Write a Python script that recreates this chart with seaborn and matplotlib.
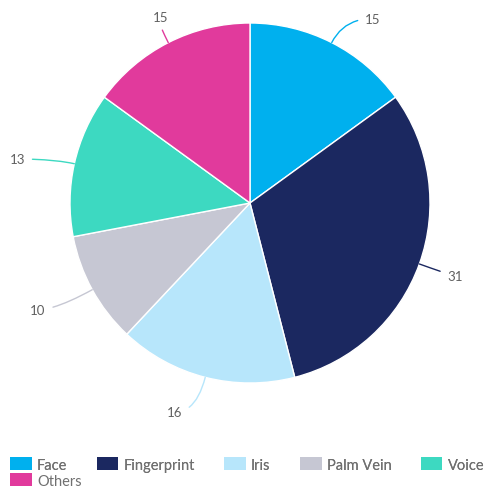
import numpy as np
import seaborn as sns
import matplotlib.pyplot as plt
from matplotlib.patches import Patch

categories = ['Face', 'Fingerprint', 'Iris', 'Palm Vein', 'Voice', 'Others']
values = [15, 31, 16, 10, 13, 15]
colors = ['#00B0EE', '#1B2860', '#B7E6FB', '#C6C7D3', '#3DD9C1', '#E13A9C']

sns.set_theme(style="white")
plt.rcParams['font.family'] = ['Lato', 'DejaVu Sans']

W, H = 485, 489
cx, cy, R = 250, 204, 180  # pie centre/radius in pixels

fig = plt.figure(figsize=(W / 100, H / 100), dpi=100)
ax = fig.add_axes([0, 0, 1, 1])

wedges, _ = ax.pie(values, colors=colors, startangle=90, counterclock=False,
                   wedgeprops=dict(linewidth=1, edgecolor='white'))

ax.set_xlim(-cx / R, (W - cx) / R)
ax.set_ylim(-(H - cy) / R, cy / R)
ax.set_aspect('equal')
ax.axis('off')

# label placement: radial factor and sideways shift for each slice
label_r = [1.15, 1.19, 1.20, 1.23, 1.12, 1.16]
label_dx = [0.16, 0.02, 0.12, 0.10, 0.20, -0.03]
for w, v, c, lr, dx in zip(wedges, values, colors, label_r, label_dx):
    ang = np.deg2rad((w.theta1 + w.theta2) / 2)
    x, y = np.cos(ang), np.sin(ang)
    side = 1 if x >= 0 else -1
    tx, ty = lr * x + side * dx, lr * y
    ax.annotate(str(v), xy=(x, y), xytext=(tx, ty),
                ha='center', va='center',
                fontsize=9.5, color='#606060',
                arrowprops=dict(arrowstyle='-', color=c, lw=1,
                                shrinkA=3, shrinkB=0,
                                connectionstyle=f"angle3,angleA=0,angleB={np.rad2deg(ang)}"))

# legend: five in the first row, Others wrapped below
handles = [Patch(facecolor=colors[i], edgecolor='none', label=categories[i])
           for i in range(len(categories))]
leg_kw = dict(loc='upper left', frameon=False, fontsize=10.5, labelcolor='#707070',
              handlelength=1.5, handleheight=1.0, handletextpad=0.35,
              columnspacing=2.0, borderaxespad=0, borderpad=0)
leg1 = fig.legend(handles=handles[:5], ncol=5,
                  bbox_to_anchor=(10 / W, 1 - 458 / H), **leg_kw)
fig.add_artist(leg1)
fig.legend(handles=handles[5:], ncol=1,
           bbox_to_anchor=(10 / W, 1 - 474 / H), **leg_kw)

fig.savefig('out.png', dpi=100)
